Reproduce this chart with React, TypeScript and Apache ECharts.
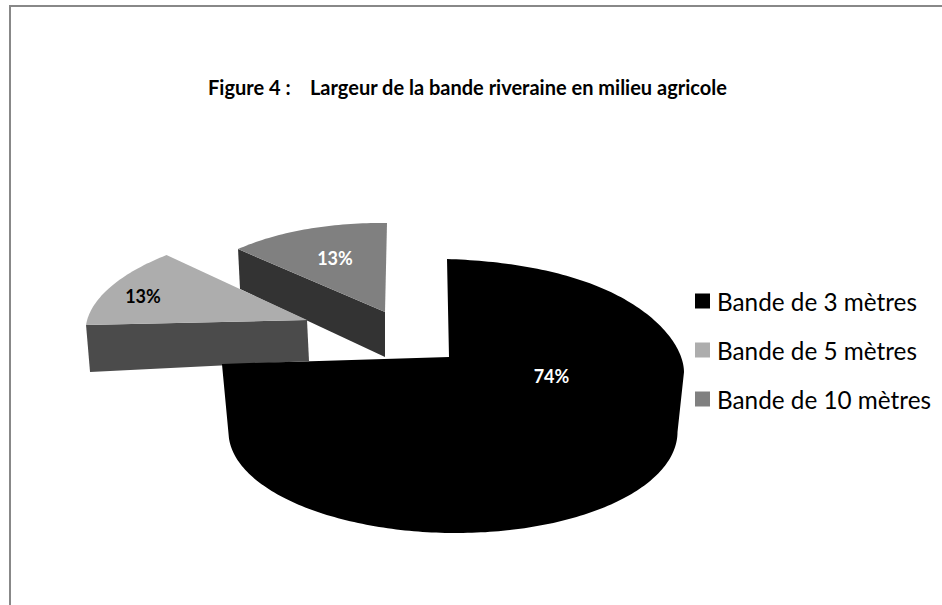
import React, { useEffect, useRef } from "react";
import * as echarts from "echarts";

const titleText = "Figure 4 :\u00a0\u00a0\u00a0\u00a0Largeur de la bande riveraine en milieu agricole";
const categories = ["Bande de 3 mètres", "Bande de 5 mètres", "Bande de 10 mètres"];
const values = [74, 13, 13];
const topColors = ["#000000", "#adadad", "#808080"];
const wallColors = ["#000000", "#4b4b4b", "#333333"];
const labelColors = ["#ffffff", "#000000", "#ffffff"];

type Rim = { cx: number; cy: number; rx: number; ry: number; sx: number; sy: number; bx: number; by: number; q: number };
const FONT = "Lato, Carlito, Calibri, sans-serif";

// Projected rims of each exploded slice (the reference is a perspective 3D pie).
const topRims: Rim[] = [
  { cx: 449, cy: 357, rx: 231.3, ry: 98, sx: -2, sy: 7.1, bx: 3.7, by: 7.9, q: -3.5 },
  { cx: 307, cy: 320, rx: 219.6, ry: 93.9, sx: 28.6, sy: 0.9, bx: 0, by: 0, q: 0 },
  { cx: 385, cy: 312, rx: 203.5, ry: 89, sx: 2, sy: 2.7, bx: 0, by: 0, q: 0 },
];
const bottomRim: Rim = { cx: 456, cy: 432, rx: 224.5, ry: 101, sx: 0, sy: 0, bx: -3, by: 0, q: 0 };
const wallOffsets = [
  null,
  [[4, 47], [2, 41]],
  [[2, 40], [0, 45]],
];
const labelPos = [[551.5, 376], [143, 296], [335, 258]];

const total = values.reduce((a, b) => a + b, 0);
const rad = (v: number) => (v / total) * Math.PI * 2;

function rimPoint(g: Rim, t: number): number[] {
  const s = Math.sin(t), c = Math.cos(t);
  const d = Math.sin(2 * t);
  return [g.cx + g.rx * s + g.sx * c + g.bx * s * s, g.cy - g.ry * c + g.sy * s + g.by * s * s + g.q * d * d];
}
function arc(g: Rim, a: number, b: number): number[][] {
  const n = Math.max(2, Math.ceil(Math.abs(b - a) / 0.02));
  const out: number[][] = [];
  for (let i = 0; i <= n; i++) out.push(rimPoint(g, a + ((b - a) * i) / n));
  return out;
}

function renderSlice(i: number) {
  return (_params: any, api: any) => {
    const value = api.value(0) as number;
    let start = 0;
    for (let k = 0; k < i; k++) start += rad(values[k]);
    const end = start + rad(value);
    const g = topRims[i];
    const children: any[] = [];
    const apex = [g.cx, g.cy];
    if (i === 0) {
      const quarter = Math.PI / 2;
      const points = [
        ...arc(g, start, quarter),
        ...arc(bottomRim, quarter, end),
        rimPoint(g, end),
        apex,
      ];
      children.push({ type: "polygon", shape: { points }, style: { fill: topColors[i] } });
    } else {
      const w = wallOffsets[i]!;
      const a = rimPoint(g, start);
      const wall = [
        a,
        apex,
        [apex[0] + w[1][0], apex[1] + w[1][1]],
        [a[0] + w[0][0], a[1] + w[0][1]],
      ];
      children.push({ type: "polygon", shape: { points: wall }, style: { fill: wallColors[i] } });
      children.push({
        type: "polygon",
        shape: { points: [apex, ...arc(g, start, end)] },
        style: { fill: topColors[i] },
      });
    }
    children.push({
      type: "text",
      style: {
        x: labelPos[i][0],
        y: labelPos[i][1],
        text: `${value}%`,
        fill: labelColors[i],
        font: `bold 18px ${FONT}`,
        align: "center",
        verticalAlign: "middle",
      },
    });
    return { type: "group", children };
  };
}

// slices drawn back to front
const drawOrder = [2, 1, 0];

export default function App() {
  const ref = useRef<HTMLDivElement>(null);
  useEffect(() => {
    const chart = echarts.init(ref.current!, undefined, { renderer: "svg" });
    chart.setOption({
      animation: false,
      backgroundColor: "#ffffff",
      title: {
        text: titleText,
        left: 203,
        top: 72,
        textStyle: { fontFamily: FONT, fontSize: 20, fontWeight: "bold", color: "#000000" },
      },
      legend: {
        orient: "vertical",
        left: 690,
        top: 284,
        itemWidth: 15,
        itemHeight: 15,
        itemGap: 25,
        icon: "rect",
        data: categories,
        textStyle: { fontFamily: FONT, fontSize: 24.3, color: "#000000", padding: [0, 0, 0, 2] },
      },
      graphic: [
        { type: "rect", shape: { x: 9, y: 5, width: 933, height: 2 }, style: { fill: "#888888" } },
        { type: "rect", shape: { x: 9, y: 5, width: 2, height: 600 }, style: { fill: "#888888" } },
      ],
      series: drawOrder.map((i) => ({
        type: "custom",
        name: categories[i],
        coordinateSystem: "none",
        itemStyle: { color: topColors[i] },
        renderItem: renderSlice(i),
        data: [[values[i]]],
      })),
    });
    return () => chart.dispose();
  }, []);
  return <div ref={ref} style={{ position: "absolute", left: 0, top: 0, width: 942, height: 605 }} />;
}
